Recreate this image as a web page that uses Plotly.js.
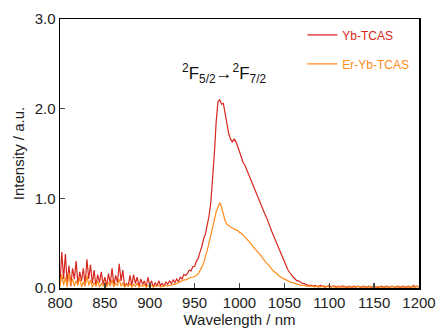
<!DOCTYPE html>
<html><head><meta charset="utf-8">
<script src="https://cdn.plot.ly/plotly-3.0.1.min.js"></script>
<style>html,body{margin:0;padding:0;background:#fff}</style>
</head><body><div id="chart" style="width:438px;height:329px"></div>
<script>
const wavelength = [800,802,804,806,808,810,812,814,816,818,820,822,824,826,828,830,832,834,836,838,840,842,844,846,848,850,852,854,856,858,860,862,864,866,868,870,872,874,876,878,880,882,884,886,888,890,892,894,896,898,900,902,904,906,908,910,912,914,916,918,920,922,924,926,928,930,932,934,936,938,
940,942,944,946,948,950,952,954,956,958,960,962,964,966,968,970,972,974,976,978,980,982,984,986,988,990,992,994,996,998,1000,1002,1004,1006,1008,1010,1012,1014,1016,1018,1020,1022,1024,1026,1028,1030,1032,1034,1036,1038,1040,1042,1044,1046,1048,1050,1052,1054,1056,1058,1060,1062,1064,1066,1068,1070,1072,1074,1076,1078,1080,
1082,1084,1086,1088,1090,1092,1094,1096,1098,1100,1102,1104,1106,1108,1110,1112,1114,1116,1118,1120,1122,1124,1126,1128,1130,1132,1134,1136,1138,1140,1142,1144,1146,1148,1150,1152,1154,1156,1158,1160,1162,1164,1166,1168,1170,1172,1174,1176,1178,1180,1182,1184,1186,1188,1190,1192,1194,1196,1198,1200];

const ybNoise = [0.05,0.4,0.1,0.38,0.05,0.25,0.02,0.22,0.1,0.3,0.04,0.18,0.08,0.22,0.03,0.32,0.1,0.26,0.05,0.2,0.02,0.15,0.06,0.18,0.04,0.12,0.02,0.16,0.05,0.22,0.03,0.14,0.06,0.27,0.08,0.2,0.01,0.05,0.02,0.14,0.03,0.15,0.05,0.12,0.02,0.1,0.04,0.08,0.01,0.12,0.03,0.08,0.01,0.06,0.02,0.08,0.03,0.05,0.02,0.07,0.04,0.08,0.05,0.09,0.06,0.1,0.07,0.12,0.1,0.15];
const ybPeak = [0.14,0.16,0.2,0.19,0.24,0.24,0.3,0.33,0.4,0.46,0.55,0.6,0.7,0.8,0.95,1.2,1.5,1.85,2.08,2.1,2.05,2.06,1.95,1.85,1.72,1.66,1.63,1.66,1.63,1.58,1.52,1.46,1.4,1.37,1.32,1.28,1.22,1.17,1.11,1.06,1.01,0.97,0.92,0.88,0.83,0.79,0.73,0.68,0.63,0.58,0.53,0.48,0.43,0.38,0.33,0.28,0.24,0.2,0.17,0.14,0.12,0.1,0.08,0.08,0.06,0.05,0.05,0.04,0.03,0.03,0.03];
const ybTail = [0.02,0.03,0.02,0.01,0.03,0.02,0.02,0.01,0.02,0.03,0.01,0.02,0.02,0.01,0.02,0.01,0.02,0.02,0.01,0.01,0.02,0.01,0.01,0.02,0.01,0.02,0.01,0.01,0.02,0.01,0.01,0.02,0.01,0.01,0.02,0.01,0.01,0.01,0.02,0.01,0.01,0.02,0.01,0.01,0.02,0.01,0.01,0.02,0.01,0.01,0.02,0.01,0.01,0.02,0.01,0.01,0.03,0.01,0.02,0.01];

const erNoise = [0.02,0.15,0.03,0.12,0.01,0.17,0.04,0.1,0.02,0.08,0.03,0.12,0.01,0.07,0.02,0.14,0.03,0.09,0.01,0.06,0.02,0.08,0.01,0.05,0.02,0.07,0.01,0.06,0.02,0.09,0.01,0.05,0.03,0.1,0.02,0.06,0.01,0.04,0.02,0.05,0.01,0.04,0.02,0.05,0.01,0.03,0.02,0.04,0.01,0.03,0.02,0.03,0.01,0.02,0.02,0.03,0.01,0.02,0.02,0.03,0.02,0.03,0.03,0.04,0.04,0.05,0.06,0.07,0.08,0.09];
const erPeak = [0.09,0.1,0.11,0.12,0.12,0.13,0.14,0.16,0.19,0.23,0.28,0.34,0.42,0.5,0.6,0.68,0.76,0.85,0.91,0.95,0.9,0.82,0.75,0.71,0.69,0.68,0.67,0.66,0.65,0.64,0.62,0.61,0.59,0.57,0.54,0.52,0.5,0.48,0.45,0.43,0.41,0.38,0.36,0.33,0.3,0.28,0.26,0.23,0.21,0.19,0.17,0.15,0.14,0.12,0.11,0.1,0.09,0.08,0.07,0.06,0.06,0.05,0.04,0.04,0.03,0.03,0.03,0.02,0.02,0.02,0.02];
const erTail = [0.02,0.01,0.02,0.02,0.01,0.02,0.01,0.01,0.02,0.01,0.01,0.02,0.01,0.01,0.01,0.02,0.01,0.01,0.02,0.01,0.01,0.01,0.02,0.01,0.01,0.02,0.01,0.01,0.01,0.02,0.01,0.01,0.02,0.01,0.01,0.01,0.02,0.01,0.01,0.01,0.02,0.01,0.01,0.01,0.02,0.01,0.01,0.01,0.02,0.01,0.01,0.02,0.01,0.01,0.01,0.02,0.01,0.01,0.02,0.01];

const seriesNames = ['Yb-TCAS','Er-Yb-TCAS'];
const seriesColors = ['#d7261e','#ff8c1a'];
const xTicks = [800,850,900,950,1000,1050,1100,1150,1200];
const yTicks = [0,1,2,3];
const yTickText = ['0.0','1.0','2.0','3.0'];
const transitionLabel = '<sup>2</sup>F<sub>5/2</sub>→<sup>2</sup>F<sub>7/2</sub>';

const ybY = ybNoise.concat(ybPeak, ybTail);
const erY = erNoise.concat(erPeak, erTail);

const traces = [ybY, erY].map((y, i) => ({
  x: wavelength, y: y, type: 'scatter', mode: 'lines',
  name: '<span style="color:' + seriesColors[i] + '">' + seriesNames[i] + '</span>',
  legendgroup: 'g' + i, legendrank: i + 1,
  line: {color: seriesColors[i], width: 1.2}
}));

const fam = 'Liberation Sans, Arial, sans-serif';
const layout = {
  width: 438, height: 329,
  margin: {l: 60, r: 19, t: 19, b: 41},
  paper_bgcolor: '#fff', plot_bgcolor: '#fff',
  font: {family: fam, size: 15, color: '#222'},
  showlegend: true,
  legend: {x: 0.675, y: 0.995, xanchor: 'left', yanchor: 'top', traceorder: 'grouped',
           tracegroupgap: 10, font: {family: fam, size: 12}, bgcolor: 'rgba(0,0,0,0)', itemwidth: 30},
  xaxis: {range: [800, 1200], tickvals: xTicks, ticks: 'inside', ticklen: 5, tickwidth: 1.5,
          showline: true, mirror: true, linecolor: '#000', linewidth: 1.5, showgrid: false, zeroline: false,
          title: {text: 'Wavelength / nm', font: {size: 15, family: fam, color: '#222'}, standoff: 3},
          tickfont: {size: 15}},
  yaxis: {range: [0, 3], tickvals: yTicks, ticktext: yTickText, ticks: 'inside', ticklen: 5, tickwidth: 1.5,
          showline: true, mirror: true, linecolor: '#000', linewidth: 1.5, showgrid: false, zeroline: false,
          title: {text: 'Intensity / a.u.', font: {size: 15, family: fam, color: '#222'}, standoff: 6},
          tickfont: {size: 15}},
  annotations: [{x: 983, y: 2.39, xref: 'x', yref: 'y', text: transitionLabel, showarrow: false,
                 font: {family: fam, size: 17, color: '#111'}}]
};
Plotly.newPlot('chart', traces, layout, {displayModeBar: false, staticPlot: true});
</script></body></html>
